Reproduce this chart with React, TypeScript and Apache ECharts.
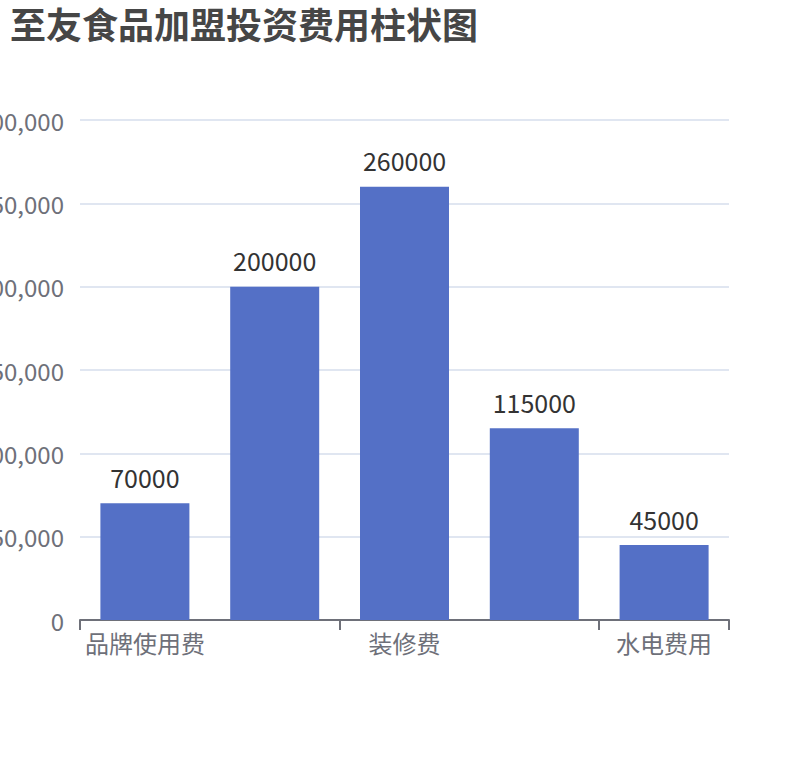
import React, { useEffect, useRef } from "react";
import * as echarts from "echarts";

const titleText = "至友食品加盟投资费用柱状图";
const categories = ["品牌使用费", "加盟费", "装修费", "设备费", "水电费用"];
const values = [70000, 200000, 260000, 115000, 45000];
const yMax = 300000;
const yInterval = 50000;

const FONT = "'Noto Sans CJK SC', 'Microsoft YaHei', sans-serif";

export default function App() {
  const ref = useRef<HTMLDivElement>(null);
  useEffect(() => {
    document.body.style.margin = "0";
    const chart = echarts.init(ref.current!, null, { renderer: "svg" });
    chart.setOption({
      animation: false,
      textStyle: { fontFamily: FONT },
      title: {
        text: titleText,
        left: 0,
        top: 0,
        padding: [5, 10],
        textStyle: { fontSize: 36, fontWeight: "bold", color: "#464646", fontFamily: FONT },
      },
      grid: {
        left: 80,
        right: 81,
        top: 120,
        bottom: 140,
        containLabel: false,
        outerBoundsMode: "none",
      },
      xAxis: {
        type: "category",
        data: categories,
        axisLine: { lineStyle: { color: "#6E7079", width: 2 } },
        axisTick: { show: true, interval: 1, length: 10, lineStyle: { color: "#6E7079", width: 2 } },
        axisLabel: { interval: 1, fontSize: 24, color: "#6E7079", margin: 10, fontFamily: FONT },
      },
      yAxis: {
        type: "value",
        min: 0,
        max: yMax,
        interval: yInterval,
        axisLabel: {
          fontSize: 24,
          color: "#6E7079",
          margin: 16,
          padding: [0, 0, 8, 0],
          fontFamily: FONT,
          formatter: (v: number) => v.toLocaleString("en-US"),
        },
        splitLine: { lineStyle: { color: "#E0E6F1", width: 2 } },
      },
      series: [
        {
          type: "bar",
          data: values,
          barWidth: 89,
          itemStyle: { color: "#5470c6" },
          label: {
            show: true,
            position: "top",
            distance: 14,
            fontSize: 25,
            color: "#333",
            fontFamily: FONT,
          },
        },
      ],
    });
    return () => chart.dispose();
  }, []);
  return <div ref={ref} style={{ width: 810, height: 760 }} />;
}
